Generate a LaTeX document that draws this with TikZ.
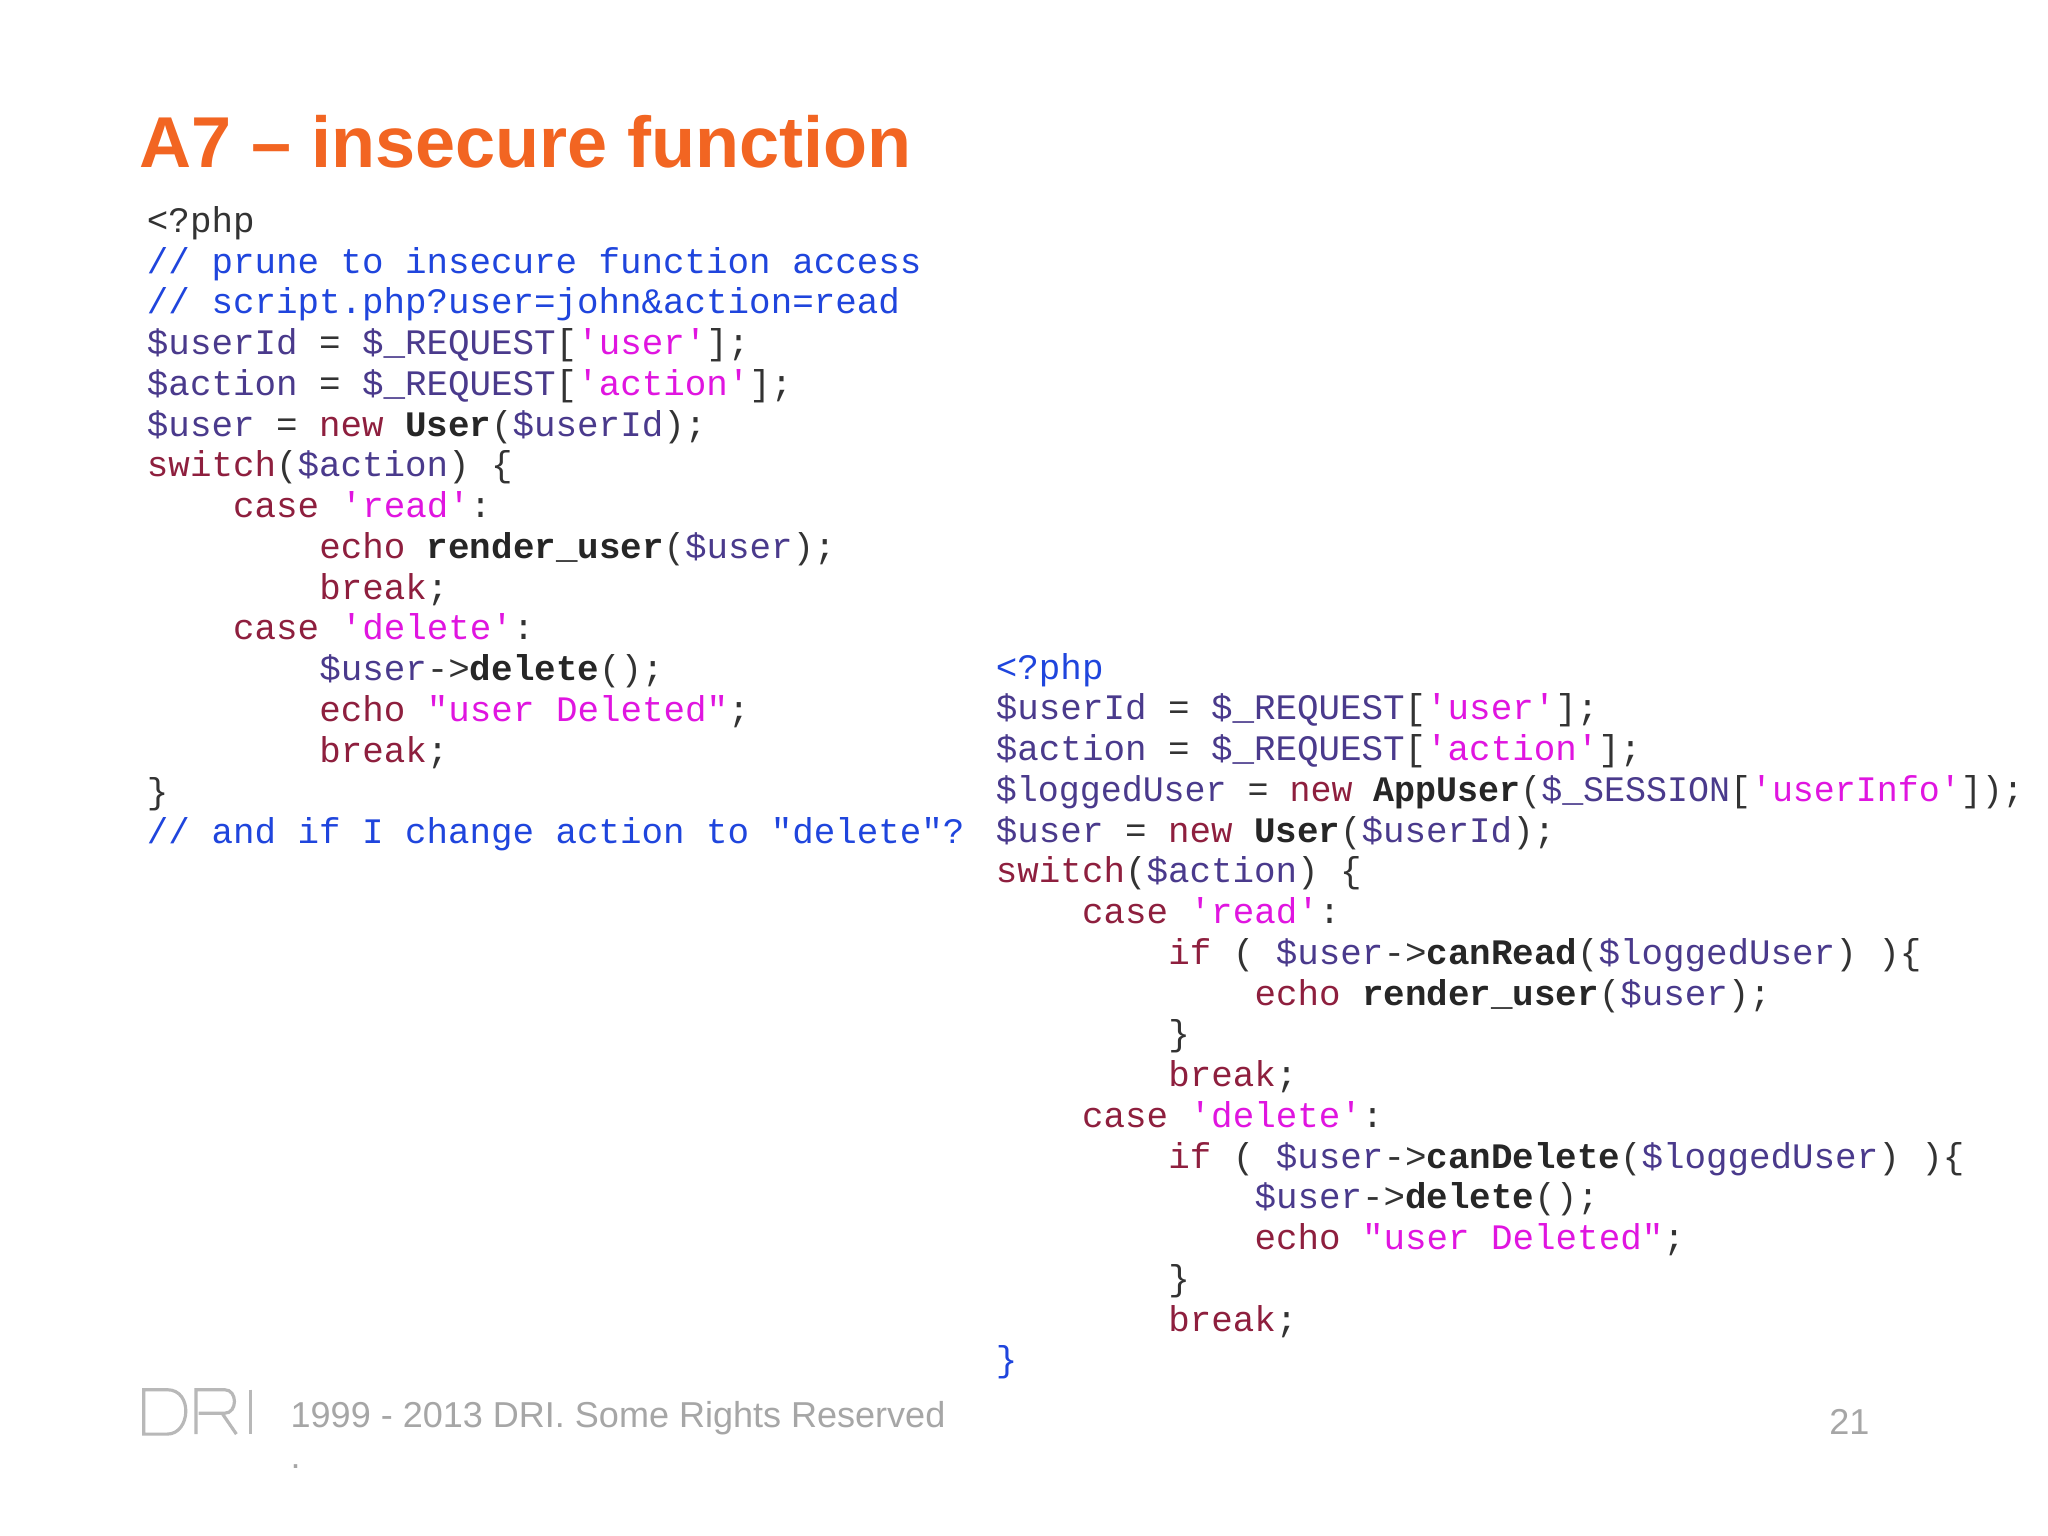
\documentclass[tikz,border=0pt]{standalone}
\usepackage{fontspec}
\setmainfont{Liberation Sans}
\setmonofont{Liberation Mono}
\definecolor{kw}{HTML}{8E1F3E}
\definecolor{vr}{HTML}{4A3A8C}
\definecolor{sg}{HTML}{E015E0}
\definecolor{cmc}{HTML}{1F45DD}
\definecolor{pc}{HTML}{333333}
\definecolor{ttl}{HTML}{F26522}
\definecolor{ft}{HTML}{A6A6A6}
\newcommand\kw[1]{\textcolor{kw}{#1}}
\newcommand\vv[1]{\textcolor{vr}{#1}}
\newcommand\cstr[1]{\textcolor{sg}{#1}}
\newcommand\cm[1]{\textcolor{cmc}{#1}}
\newcommand\fn[1]{\textbf{\textcolor{black!85}{#1}}}
\tikzset{code/.style={anchor=base west,inner sep=0pt,font=\ttfamily\fontsize{10.2}{12}\selectfont,text=pc},
 foot/.style={anchor=base west,inner sep=0pt,font=\fontsize{10.25}{12}\selectfont,text=ft}}
\begin{document}
\begin{tikzpicture}[x=0.01306cm,y=-0.01306cm]
\useasboundingbox (0,0) rectangle (1568,1176);
\fill[white] (0,0) rectangle (1568,1176);
\node[anchor=base west,inner sep=0pt,font=\bfseries\fontsize{20.5}{24}\selectfont,text=ttl] (title) at (106,128) {A7 – insecure function};
% left block
\node[code] (l1) at (112,178) {<?php};
\node[code] (l2) at (112,209.2) {\cm{// prune to insecure function access}};
\node[code] (l3) at (112,240.4) {\cm{// script.php?user=john\&action=read}};
\node[code] (l4) at (112,271.6) {\vv{\$userId} = \vv{\$\_REQUEST}[\cstr{'user'}];};
\node[code] (l5) at (112,302.8) {\vv{\$action} = \vv{\$\_REQUEST}[\cstr{'action'}];};
\node[code] (l6) at (112,334) {\vv{\$user} = \kw{new} \fn{User}(\vv{\$userId});};
\node[code] (l7) at (112,365.2) {\kw{switch}(\vv{\$action}) \{};
\node[code] (l8) at (178,396.4) {\kw{case} \cstr{'read'}:};
\node[code] (l9) at (244,427.6) {\kw{echo} \fn{render\_user}(\vv{\$user});};
\node[code] (l10) at (244,458.8) {\kw{break};};
\node[code] (l11) at (178,490) {\kw{case} \cstr{'delete'}:};
\node[code] (l12) at (244,521.2) {\vv{\$user}->\fn{delete}();};
\node[code] (l13) at (244,552.4) {\kw{echo} \cstr{"user Deleted"};};
\node[code] (l14) at (244,583.6) {\kw{break};};
\node[code] (l15) at (112,614.8) {\}};
\node[code] (l16) at (112,646) {\cm{// and if I change action to "delete"?}};
% right block
\node[code] (r1) at (762,520) {\cm{<?php}};
\node[code] (r2) at (762,551.2) {\vv{\$userId} = \vv{\$\_REQUEST}[\cstr{'user'}];};
\node[code] (r3) at (762,582.4) {\vv{\$action} = \vv{\$\_REQUEST}[\cstr{'action'}];};
\node[code,xscale=0.975] (r4) at (762,613.6) {\vv{\$loggedUser} = \kw{new} \fn{AppUser}(\vv{\$\_SESSION}[\cstr{'userInfo'}]);};
\node[code] (r5) at (762,644.8) {\vv{\$user} = \kw{new} \fn{User}(\vv{\$userId});};
\node[code] (r6) at (762,676) {\kw{switch}(\vv{\$action}) \{};
\node[code] (r7) at (828,707.2) {\kw{case} \cstr{'read'}:};
\node[code] (r8) at (894,738.4) {\kw{if} ( \vv{\$user}->\fn{canRead}(\vv{\$loggedUser}) )\{};
\node[code] (r9) at (960,769.6) {\kw{echo} \fn{render\_user}(\vv{\$user});};
\node[code] (r10) at (894,800.8) {\}};
\node[code] (r11) at (894,832) {\kw{break};};
\node[code] (r12) at (828,863.2) {\kw{case} \cstr{'delete'}:};
\node[code] (r13) at (894,894.4) {\kw{if} ( \vv{\$user}->\fn{canDelete}(\vv{\$loggedUser}) )\{};
\node[code] (r14) at (960,925.6) {\vv{\$user}->\fn{delete}();};
\node[code] (r15) at (960,956.8) {\kw{echo} \cstr{"user Deleted"};};
\node[code] (r16) at (894,988) {\}};
\node[code] (r17) at (894,1019.2) {\kw{break};};
\node[code] (r18) at (762,1050.4) {\cm{\}}};
% footer logo
\begin{scope}[draw=ft!80,line width=0.9pt,double=white,double distance=1.8pt]
\draw (110,1064) -- (110,1098) -- (128,1098) .. controls (146,1098) and (148,1064) .. (128,1064) -- cycle;
\draw (150,1098) -- (150,1064) -- (172,1064) .. controls (182,1064) and (182,1082) .. (172,1082) -- (152,1082);
\draw (170,1082) -- (181,1098);
\draw (192,1064) -- (192,1098);
\end{scope}
\node[foot] (copy) at (222,1093) {1999 - 2013 DRI. Some Rights Reserved};
\node[foot] (dot) at (222,1124) {.};
\node[foot] (page) at (1400,1098) {21};
\end{tikzpicture}
\end{document}
